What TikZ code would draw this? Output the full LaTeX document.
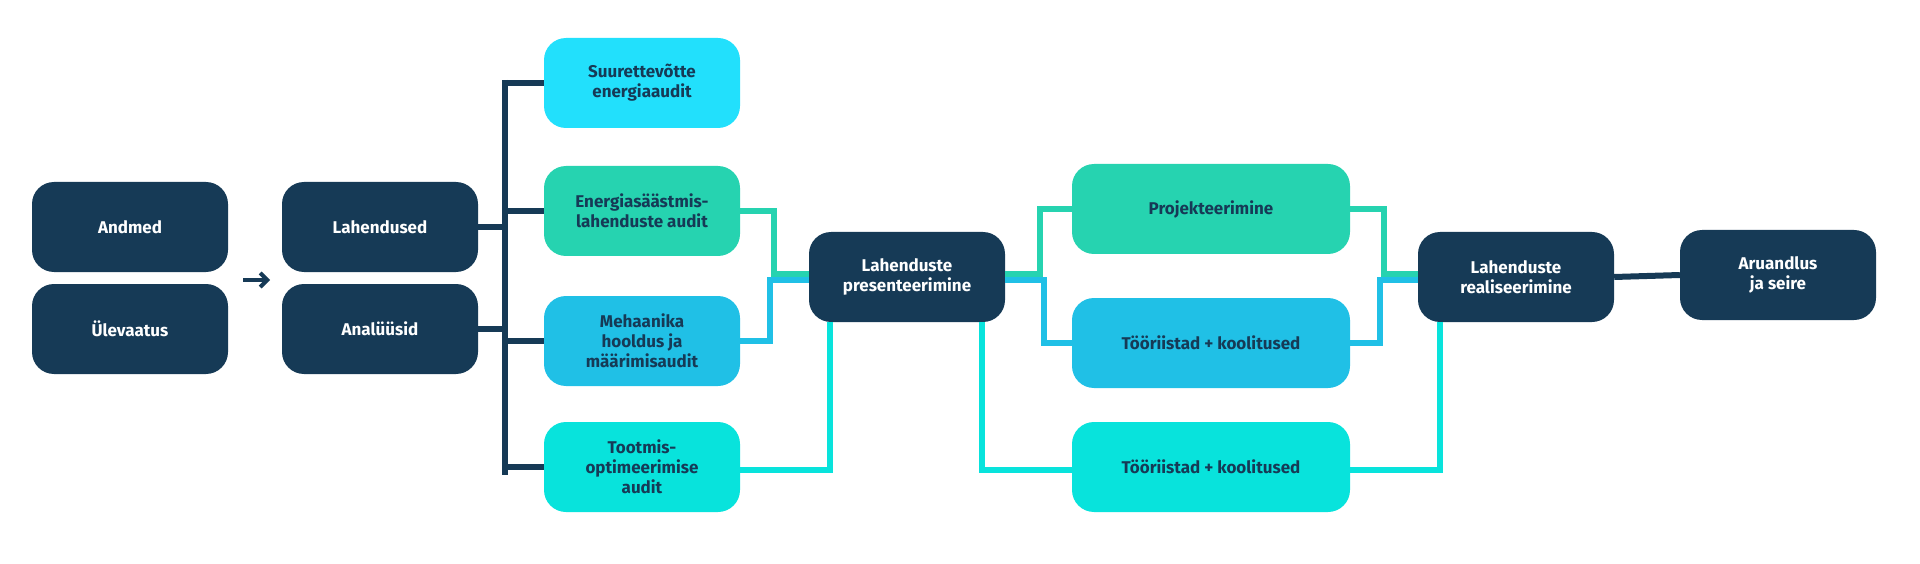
\documentclass[tikz,border=0pt]{standalone}
\usepackage{fontspec}
\setmainfont{Fira Sans}
\usetikzlibrary{arrows.meta}
\definecolor{navy}{HTML}{163A56}
\definecolor{mint}{HTML}{26D3B0}
\definecolor{sky}{HTML}{20C0E6}
\definecolor{aqua}{HTML}{22E0FC}
\definecolor{teal}{HTML}{08E3DC}
\tikzset{
  box/.style={rounded corners=22pt, minimum width=196pt, minimum height=90pt,
    align=center, font=\fontsize{17}{20}\selectfont\bfseries, text=navy},
  darkbox/.style={box, fill=navy, text=white},
  wide/.style={minimum width=278pt},
  link/.style={line width=6pt}
}
\begin{document}
\begin{tikzpicture}[x=1pt,y=-1pt]
    \useasboundingbox (0,0) rectangle (1920,564);

    % Input
    \node[darkbox] (andmed) at (130,227) {Andmed};
    \node[darkbox] (ulevaatus) at (130,329) {Ülevaatus};
    \node[darkbox] (lahendused) at (380,227) {Lahendused};
    \node[darkbox] (analuusid) at (380,329) {Analüüsid};
    \draw[navy, line width=4pt, -{Straight Barb[length=7pt]}] (243,280) -- (270,280);

    % Audits
    \node[box, fill=aqua] (suur) at (642,83) {Suurettevõtte\\energiaaudit};
    \node[box, fill=mint] (saast) at (642,211) {Energiasäästmis-\\lahenduste audit};
    \node[box, fill=sky] (mehaanika) at (642,341) {Mehaanika\\hooldus ja\\määrimisaudit};
    \node[box, fill=teal] (tootmis) at (642,467) {Tootmis-\\optimeerimise\\audit};

    % Middle
    \node[darkbox] (present) at (907,277) {Lahenduste\\presenteerimine};
    \node[box, wide, fill=mint] (projekt) at (1211,209) {Projekteerimine};
    \node[box, wide, fill=sky] (toorb) at (1211,343) {Tööriistad + koolitused};
    \node[box, wide, fill=teal] (toorc) at (1211,467) {Tööriistad + koolitused};

    % Output
    \node[darkbox] (real) at (1516,277) {Lahenduste\\realiseerimine};
    \node[darkbox] (aruandlus) at (1778,275) {Aruandlus\\ja seire};

    % Navy bracket
    \draw[link, navy] (505,80) -- (505,475);
    \draw[link, navy] (lahendused.east) -- (505,227);
    \draw[link, navy] (analuusid.east) -- (505,329);
    \foreach \n in {suur, saast, mehaanika, tootmis}
        \draw[link, navy] (505,0 |- \n.west) -- (\n.west);

    % Audits to presentation
    \draw[link, mint] (saast.east) -- (774,211) -- (774,274) -- (present.west |- 0,274);
    \draw[link, sky] (mehaanika.east) -- (770,341) -- (770,280) -- (present.west |- 0,280);
    \draw[link, teal] (tootmis.east |- 0,470) -- (830,470) -- (830,0 |- present.south);

    % Presentation to execution
    \draw[link, mint] (present.east |- 0,274) -- (1040,274) -- (1040,209) -- (projekt.west);
    \draw[link, sky] (present.east |- 0,280) -- (1044,280) -- (1044,343) -- (toorb.west);
    \draw[link, teal] (982,0 |- present.south) -- (982,470) -- (toorc.west |- 0,470);

    % Execution to realisation
    \draw[link, mint] (projekt.east) -- (1384,209) -- (1384,274) -- (real.west |- 0,274);
    \draw[link, sky] (toorb.east) -- (1380,343) -- (1380,280) -- (real.west |- 0,280);
    \draw[link, teal] (toorc.east |- 0,470) -- (1440,470) -- (1440,0 |- real.south);
    \draw[link, navy] (real.east) -- (aruandlus.west);
\end{tikzpicture}
\end{document}
